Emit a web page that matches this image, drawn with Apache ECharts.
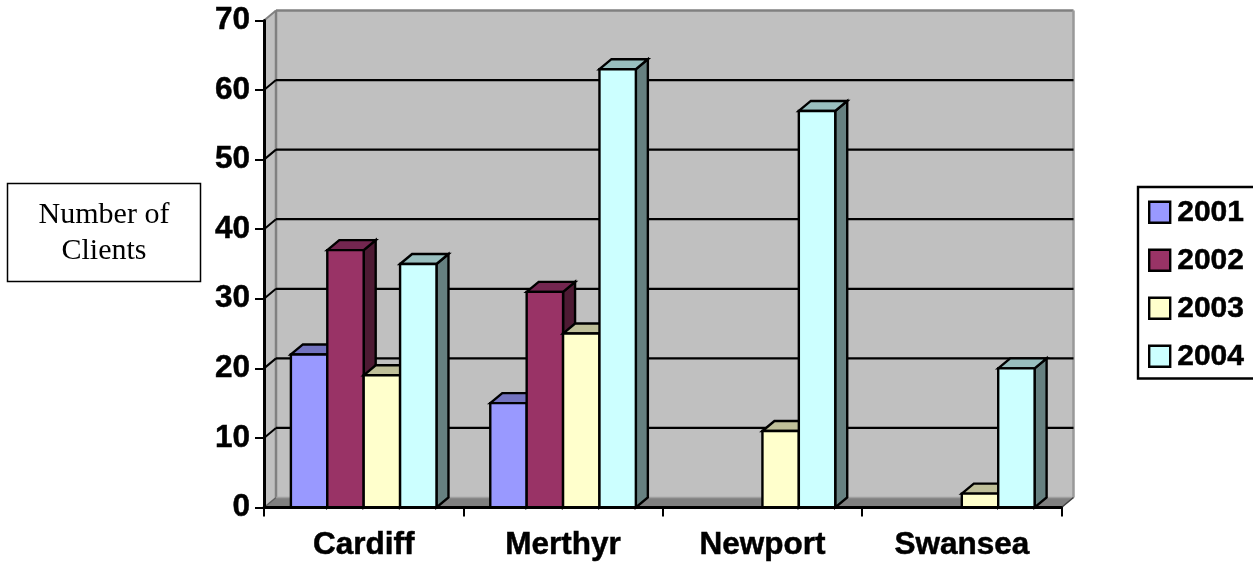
<!DOCTYPE html>
<html>
<head>
<meta charset="utf-8">
<style>html,body{margin:0;padding:0;background:#fff;overflow:hidden}#c{width:1253px;height:562px}</style>
<script src="https://cdn.jsdelivr.net/npm/echarts@6/dist/echarts.min.js"></script>
</head>
<body>
<div id="c"></div>
<script>
var categories = ['Cardiff', 'Merthyr', 'Newport', 'Swansea'];
var years = ['2001', '2002', '2003', '2004'];
var values2001 = [22, 15, 0, 0];
var values2002 = [37, 31, 0, 0];
var values2003 = [19, 25, 11, 2];
var values2004 = [35, 63, 57, 20];
var yTicks = [0, 10, 20, 30, 40, 50, 60, 70];
var yAxisTitle = ['Number of', 'Clients'];

var allValues = [values2001, values2002, values2003, values2004];
var frontColors = ['#9999FF', '#993366', '#FFFFCC', '#CCFFFF'];
var topColors = ['#7373BF', '#732650', '#BFBF99', '#99BFBF'];
var sideColors = ['#4D4D80', '#4D1A33', '#808066', '#668080'];
var DX = 12, DY = -10;
var BAR_FRACTION = 36.4 / 199.4;

var chart = echarts.init(document.getElementById('c'), null, {renderer: 'canvas'});

function poly(points, fill, stroke, lw) {
  return {type: 'polygon', shape: {points: points},
    style: {fill: fill, stroke: stroke || null, lineWidth: lw || 0, lineJoin: 'miter'}};
}
function line(x1, y1, x2, y2, stroke, lw) {
  return {type: 'line', shape: {x1: x1, y1: y1, x2: x2, y2: y2},
    style: {stroke: stroke, lineWidth: lw, fill: null}};
}

function renderWalls(params, api) {
  var c = params.coordSys, L = c.x, T = c.y, R = c.x + c.width, B = c.y + c.height;
  return {type: 'group', children: [
    poly([[L, T], [L + DX, T + DY], [L + DX, B + DY], [L, B]], '#C0C0C0'),
    poly([[L + DX, T + DY], [R + DX, T + DY], [R + DX, B + DY], [L + DX, B + DY]], '#C0C0C0'),
    poly([[L, B], [L + DX, B + DY], [R + DX, B + DY], [R, B]], '#808080'),
    line(L + DX, T + DY, L + DX, B + DY, '#808080', 2.5),
    line(L + DX, T + DY, R + DX, T + DY, '#808080', 2.5),
    line(R + DX, T + DY, R + DX, B + DY, '#999999', 2.5),
    line(L, T, L + DX, T + DY, '#808080', 2),
    line(L + DX, B + DY, R + DX, B + DY, '#A0A0A0', 1.5),
    line(R, B, R + DX, B + DY, '#404040', 1.5),
    line(L, B, L + DX, B + DY, '#606060', 1.5)
  ]};
}

function renderGridLine(params, api) {
  var c = params.coordSys;
  var v = api.value(0);
  if (v === 0 || v === yTicks[yTicks.length - 1]) return null;
  var p = api.coord([0, v]);
  var y = p[1], L = c.x, R = c.x + c.width;
  return {type: 'group', children: [
    line(L, y, L + DX, y + DY, '#000', 2),
    line(L + DX, y + DY, R + DX, y + DY, '#000', 2.2)
  ]};
}

function makeRenderBar(idx) {
  return function (params, api) {
    var v = api.value(1);
    if (!v) return null;
    var cat = api.value(0);
    var center = api.coord([cat, 0]);
    var top = api.coord([cat, v]);
    var w = api.size([1, 0])[0] * BAR_FRACTION;
    var x0 = center[0] + (idx - 2) * w;
    var x1 = x0 + w;
    var yB = center[1], yT = top[1];
    return {type: 'group', children: [
      poly([[x1, yT], [x1 + DX, yT + DY], [x1 + DX, yB + DY], [x1, yB]], sideColors[idx], '#000', 2.4),
      poly([[x0, yT], [x0 + DX, yT + DY], [x1 + DX, yT + DY], [x1, yT]], topColors[idx], '#000', 2.4),
      poly([[x0, yT], [x1, yT], [x1, yB], [x0, yB]], frontColors[idx], '#000', 2.4)
    ]};
  };
}

var series = [
  {name: 'walls', type: 'custom', coordinateSystem: 'cartesian2d', clip: false, silent: true, z: 1,
   encode: {x: 0, y: 1}, data: [[0, 0]], renderItem: renderWalls},
  {name: 'gridlines', type: 'custom', coordinateSystem: 'cartesian2d', clip: false, silent: true, z: 1,
   encode: {y: 0}, data: yTicks.map(function (t) { return [t]; }), renderItem: renderGridLine}
];
years.forEach(function (y, i) {
  series.push({
    name: y, type: 'custom', coordinateSystem: 'cartesian2d', clip: false, z: 2 + i,
    itemStyle: {color: frontColors[i]},
    encode: {x: 0, y: 1},
    data: categories.map(function (c, j) { return [j, allValues[i][j]]; }),
    renderItem: makeRenderBar(i)
  });
});

chart.setOption({
  animation: false,
  backgroundColor: '#fff',
  textStyle: {fontFamily: '"Liberation Sans"'},
  grid: {left: 264, top: 20.5, width: 797.5, height: 487, containLabel: false},
  xAxis: {
    type: 'category', data: categories, z: 10,
    axisLine: {show: true, onZero: false, lineStyle: {color: '#000', width: 3}},
    axisTick: {show: true, alignWithLabel: false, length: 9, lineStyle: {color: '#000', width: 2}},
    axisLabel: {color: '#000', fontSize: 31.5, fontWeight: 'bold', margin: 22, textBorderColor: '#000', textBorderWidth: 0.5, fontFamily: '"Liberation Sans"'},
    splitLine: {show: false}
  },
  yAxis: {
    type: 'value', min: 0, max: 70, interval: 10, z: 10,
    axisLine: {show: true, lineStyle: {color: '#000', width: 3}},
    axisTick: {show: true, length: 9, lineStyle: {color: '#000', width: 2}},
    axisLabel: {color: '#000', fontSize: 31.5, fontWeight: 'bold', margin: 14, padding: [3, 0, 0, 0], textBorderColor: '#000', textBorderWidth: 0.5, fontFamily: '"Liberation Sans"'},
    splitLine: {show: false}
  },
  legend: {
    data: years.map(function (y, i) {
      return {name: y, icon: 'rect', itemStyle: {color: frontColors[i], borderColor: '#000', borderWidth: 2.4}};
    }),
    orient: 'vertical', left: 1138, top: 187,
    padding: [10, 30, 7, 10],
    itemWidth: 21, itemHeight: 21, itemGap: 17.5,
    backgroundColor: '#fff', borderColor: '#000', borderWidth: 2.4,
    selectedMode: false,
    textStyle: {color: '#000', fontSize: 30, fontWeight: 'bold', textBorderColor: '#000', textBorderWidth: 0.5, fontFamily: '"Liberation Sans"', padding: [4, 0, 0, 2]}
  },
  graphic: [
    {type: 'rect', shape: {x: 7.5, y: 183.5, width: 193, height: 98},
     style: {fill: '#fff', stroke: '#000', lineWidth: 1.5}},
    {type: 'text', x: 104, y: 233.5,
     style: {text: yAxisTitle.join('\n'), font: '30px "Liberation Serif"', fill: '#000',
             align: 'center', verticalAlign: 'middle', lineHeight: 36}}
  ],
  series: series
});
</script>
</body>
</html>
